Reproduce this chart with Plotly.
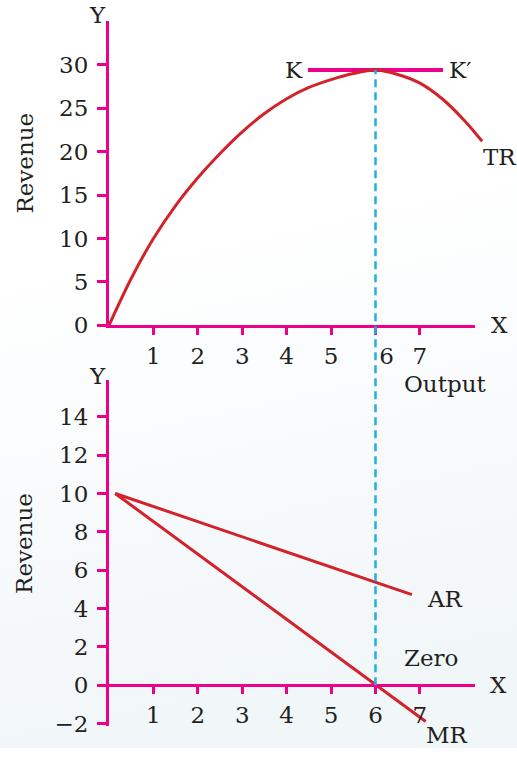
import base64
import plotly.graph_objects as go

# ---- data -------------------------------------------------------------
# Total revenue curve (output vs revenue)
tr_output = [0, 0.5, 1, 1.5, 2, 2.5, 3, 3.5, 4, 4.5, 5, 5.5, 6, 6.5, 7, 7.5, 8, 8.4]
tr_revenue = [0, 5.4, 10.0, 13.8, 17.0, 19.8, 22.3, 24.4, 26.1, 27.4, 28.3, 29.0, 29.4,
              28.9, 27.9, 26.1, 23.6, 21.2]

# Tangent K-K' at the TR maximum
kk_output = [4.48, 7.52]
kk_revenue = [29.4, 29.4]

# Average and marginal revenue lines
ar_output = [0.14, 6.82]
ar_revenue = [10.0, 4.72]
mr_output = [0.14, 7.13]
mr_revenue = [10.0, -1.9]

# Output level where TR peaks and MR is zero
peak_output = 6
peak_revenue = 29.4

x_ticks = [1, 2, 3, 4, 5, 6, 7]
top_x_text = ["1", "2", "3", "4", "5", "\u00a0\u00a0\u00a06", "7"]
top_y_ticks = [0, 5, 10, 15, 20, 25, 30]
bottom_y_ticks = [-2, 0, 2, 4, 6, 8, 10, 12, 14]

# ---- styling ----------------------------------------------------------
AXIS = "#ec008c"
CURVE = "#d2232a"
GUIDE = "#1fb0e6"
INK = "#231f20"
FONT = "DejaVu Serif"
FS = 23

W, H = 517, 761
X_DOM = [109 / W, 475 / W]
X_RANGE = [0, 8.24]
X_DOM_WIDE = [109 / W, 495 / W]
X_RANGE_WIDE = [0, 8.24 * (495 - 109) / (475 - 109)]

TOP_DOM = [(H - 331) / H, (H - 21) / H]
TOP_RANGE = [0, 35.1]
BOT_DOM = [(H - 739) / H, (H - 387) / H]
BOT_RANGE = [-2.15, 15.9]


def to_paper(v, dom, rng):
    return dom[0] + (v - rng[0]) / (rng[1] - rng[0]) * (dom[1] - dom[0])


fig = go.Figure()

fig.add_trace(go.Scatter(x=tr_output, y=tr_revenue, mode="lines", xaxis="x3", yaxis="y",
                         line=dict(color=CURVE, width=3, shape="spline", smoothing=1.0),
                         hoverinfo="skip"))
fig.add_trace(go.Scatter(x=kk_output, y=kk_revenue, mode="lines", xaxis="x", yaxis="y",
                         line=dict(color=AXIS, width=4), hoverinfo="skip"))
fig.add_trace(go.Scatter(x=ar_output, y=ar_revenue, mode="lines", xaxis="x2", yaxis="y2",
                         line=dict(color=CURVE, width=3), hoverinfo="skip"))
fig.add_trace(go.Scatter(x=mr_output, y=mr_revenue, mode="lines", xaxis="x2", yaxis="y2",
                         line=dict(color=CURVE, width=3), hoverinfo="skip"))

# dashed guide from the TR peak down to MR = 0
fig.add_shape(type="line", xref="x", yref="paper",
              x0=peak_output, x1=peak_output,
              y0=to_paper(0, BOT_DOM, BOT_RANGE),
              y1=to_paper(peak_revenue, TOP_DOM, TOP_RANGE),
              line=dict(color=GUIDE, width=2.5, dash="8px,5px"), layer="above")

tick_font = dict(family=FONT, size=FS, color=INK)
x_common = dict(range=X_RANGE, domain=X_DOM, tickvals=x_ticks, ticks="outside", ticklen=7,
                tickwidth=3, tickcolor=AXIS, showline=True, linecolor=AXIS, linewidth=3,
                showgrid=False, zeroline=False, tickfont=tick_font, ticklabelstandoff=1,
                fixedrange=True)
y_common = dict(ticks="outside", ticklen=9, tickwidth=3, tickcolor=AXIS, showline=True,
                linecolor=AXIS, linewidth=3, showgrid=False, zeroline=False,
                tickfont=tick_font, ticklabelstandoff=4, fixedrange=True)

# soft background wash, white at the top fading to a pale blue-grey
svg = ('<svg xmlns="http://www.w3.org/2000/svg" width="517" height="761">'
       '<defs><linearGradient id="g" x1="0" y1="0" x2="0.15" y2="1">'
       '<stop offset="0.35" stop-color="#ffffff"/>'
       '<stop offset="1" stop-color="#f1f6f9"/></linearGradient></defs>'
       '<rect width="517" height="761" fill="url(#g)"/></svg>')
bg_src = "data:image/svg+xml;base64," + base64.b64encode(svg.encode()).decode()

fig.update_layout(
    width=W, height=H, autosize=False,
    margin=dict(l=0, r=0, t=0, b=0),
    paper_bgcolor="#ffffff", plot_bgcolor="rgba(0,0,0,0)",
    showlegend=False,
    images=[dict(source=bg_src, xref="paper", yref="paper", x=0, y=1, sizex=1, sizey=1,
                 sizing="stretch", xanchor="left", yanchor="top", layer="below")],
    xaxis=dict(anchor="y", ticktext=top_x_text, **x_common),
    yaxis=dict(anchor="x", domain=TOP_DOM, range=TOP_RANGE, tickvals=top_y_ticks, **y_common),
    xaxis3=dict(anchor="y", domain=X_DOM_WIDE, range=X_RANGE_WIDE, visible=False,
                fixedrange=True),
    xaxis2=dict(anchor="free", position=to_paper(0, BOT_DOM, BOT_RANGE), **x_common),
    yaxis2=dict(anchor="x2", domain=BOT_DOM, range=BOT_RANGE, tickvals=bottom_y_ticks,
                **y_common),
)

lab = dict(family=FONT, size=FS, color=INK)


def note(text, x, y, panel, **kw):
    dom_y, rng_y = (TOP_DOM, TOP_RANGE) if panel == "top" else (BOT_DOM, BOT_RANGE)
    fig.add_annotation(text=text, x=to_paper(x, X_DOM, X_RANGE), y=to_paper(y, dom_y, rng_y),
                       xref="paper", yref="paper", showarrow=False, font=lab,
                       xanchor="center", yanchor="middle", **kw)


# top panel labels
note("Y", -0.25, 35.7, "top")
note("X", 8.8, 0, "top")
note("Revenue", -1.9, 18.7, "top", textangle=-90)
note("K", 4.16, 29.4, "top")
note("K′", 7.9, 29.4, "top")
note("TR", 8.8, 19.4, "top")
note("Output", 7.56, 15.7, "bottom")

# bottom panel labels
note("Y", -0.25, 16.15, "bottom")
note("X", 8.78, 0, "bottom")
note("Revenue", -1.9, 7.4, "bottom", textangle=-90)
note("AR", 7.56, 4.5, "bottom")
note("Zero", 7.25, 1.4, "bottom")
note("MR", 7.6, -2.6, "bottom")

fig.write_html("out.html")
